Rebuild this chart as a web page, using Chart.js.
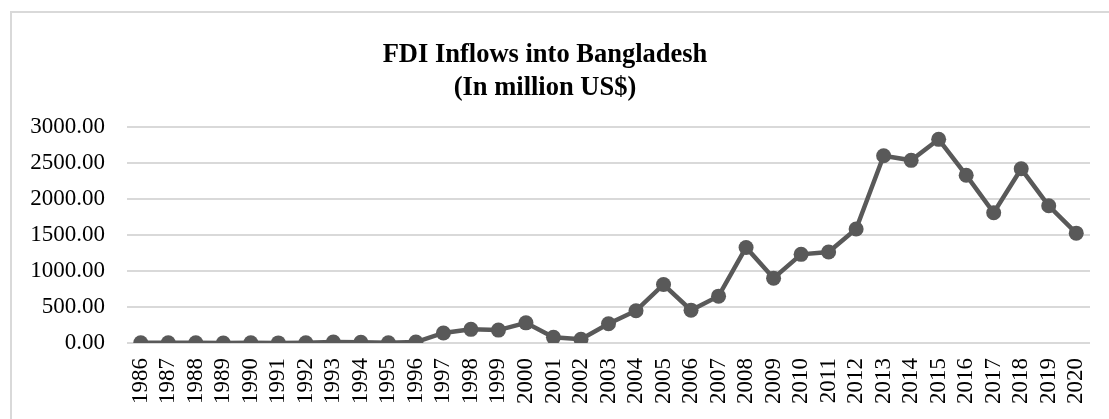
<!DOCTYPE html>
<html lang="en">
<head>
    <meta charset="UTF-8">
    <title>FDI Inflows into Bangladesh</title>
    <style>
        html, body { margin: 0; padding: 0; background: #fff; overflow: hidden; }
        #frame {
            position: absolute; left: 10px; top: 11px;
            width: 1097px; height: 406px;
            border-left: 2px solid #d9d9d9;
            border-top: 2px solid #d9d9d9;
        }
        #wrap { position: absolute; left: 0; top: 0; width: 1109px; height: 419px; }
    </style>
</head>
<body>
    <div id="frame"></div>
    <div id="wrap">
        <canvas id="myChart" width="1109" height="419"></canvas>
    </div>

    <script src="https://cdn.jsdelivr.net/npm/chart.js"></script>
    <script>
    "use strict"

    const years = ["1986","1987","1988","1989","1990","1991","1992","1993","1994","1995",
        "1996","1997","1998","1999","2000","2001","2002","2003","2004","2005",
        "2006","2007","2008","2009","2010","2011","2012","2013","2014","2015",
        "2016","2017","2018","2019","2020"]

    const fdi = [3.2, 3.2, 1.8, 0.2, 3.2, 1.4, 3.7, 14.0, 11.1, 1.9,
        13.5, 139.4, 190.1, 179.7, 280.4, 78.5, 52.3, 268.3, 448.9, 813.3,
        456.5, 651.0, 1328.4, 901.3, 1232.3, 1264.7, 1584.4, 2603.0, 2539.2, 2831.2,
        2332.7, 1810.4, 2421.3, 1908.3, 1527.0]

    const yTicks = [0, 500, 1000, 1500, 2000, 2500, 3000]

    const ctx = document.getElementById('myChart')
    const serif = "'Liberation Serif', 'Times New Roman', serif"

    let graph = new Chart(ctx, {
        type: 'line',
        data: {
            labels: years,
            datasets: [{
                label: "FDI",
                data: fdi,
                borderColor: "#595959",
                backgroundColor: "#595959",
                borderWidth: 4.5,
                pointRadius: 7.5,
                pointHoverRadius: 7.5,
                pointBackgroundColor: "#595959",
                pointBorderWidth: 0,
                tension: 0
            }]
        },
        options: {
            responsive: false,
            animation: false,
            layout: {
                padding: { left: 0, right: 19, top: 0, bottom: 0 }
            },
            plugins: {
                legend: { display: false },
                tooltip: { enabled: false },
                title: {
                    display: true,
                    text: ["FDI Inflows into Bangladesh", "(In million US$)"],
                    color: "#000",
                    font: { family: serif, size: 26.5, weight: 'bold', lineHeight: 1.23 },
                    padding: { top: 39, bottom: 23 }
                }
            },
            scales: {
                x: {
                    offset: true,
                    grid: { display: false, drawTicks: false },
                    border: { display: false },
                    ticks: {
                        color: "#000",
                        font: { family: serif, size: 23 },
                        minRotation: 90,
                        maxRotation: 90,
                        autoSkip: false,
                        padding: 15
                    },
                    afterFit: (scale) => {
                        scale.height = 76
                        // keep the plot edges where the reference has them
                        scale.paddingLeft = 0
                        scale.paddingRight = 0
                    }
                },
                y: {
                    min: 0,
                    max: 3000,
                    afterBuildTicks: (scale) => {
                        scale.ticks = yTicks.map(v => ({ value: v }))
                    },
                    grid: { color: "#d9d9d9", lineWidth: 2, drawTicks: false },
                    border: { display: false },
                    ticks: {
                        color: "#000",
                        font: { family: serif, size: 23 },
                        padding: 22,
                        callback: (v) => Number(v).toFixed(2)
                    },
                    afterFit: (scale) => { scale.width = 127 }
                }
            }
        }
    })
    </script>
</body>
</html>
